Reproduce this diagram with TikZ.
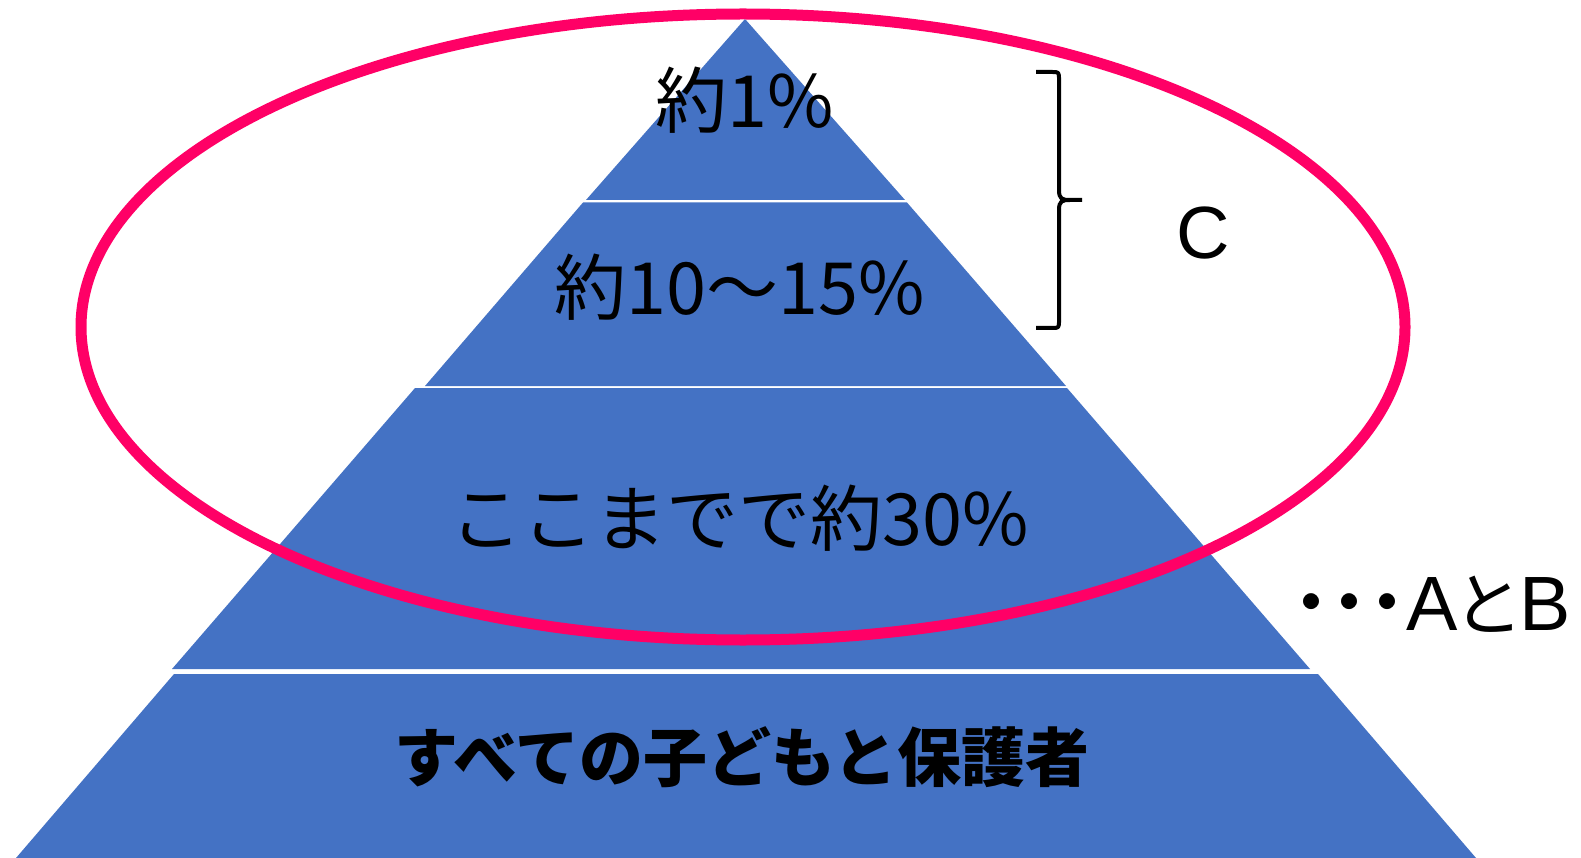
\documentclass[tikz,border=0pt]{standalone}
\usepackage{fontspec}
\setmainfont{Noto Sans CJK JP}
\newfontfamily\latinsans{Liberation Sans}
\definecolor{pyr}{HTML}{4472C4}
\definecolor{ring}{HTML}{FF0066}
\begin{document}
\begin{tikzpicture}[x=1pt,y=-1pt,
  layer/.style={fill=pyr, draw=none},
  lbl/.style={text=black, inner sep=0pt, font=\fontsize{72}{80}\selectfont},
  lblb/.style={text=black, inner sep=0pt, font=\fontsize{64}{70}\selectfont\bfseries},
  side/.style={text=black, inner sep=0pt}]
\useasboundingbox (0,0) rectangle (1581,858);
\fill[white] (0,0) rectangle (1581,858);
% pyramid layers
\path[layer] (745,19) -- (905,200) -- (586,200) -- cycle;
\path[layer] (583,202.5) -- (907,202.5) -- (1066,386) -- (425,386) -- cycle;
\path[layer] (415,388) -- (1067,388) -- (1310,669) -- (172,669) -- cycle;
\path[layer] (174,674) -- (1318,674) -- (1476,858) -- (16,858) -- cycle;
% labels
\node[lbl] (t1) at (745,100) {約1\%};
\node[lbl] (t2) at (740,287) {約10〜15\%};
\node[lbl] (t3) at (740,518) {ここまでで約30\%};
\node[lblb] (t4) at (742,757) {すべての子どもと保護者};
% ellipse
\draw[ring, line width=11] (743,327) ellipse [x radius=662pt, y radius=313pt];
% brace
\draw[black, line width=4, line join=round]
  (1036,72) -- (1052,72) .. controls (1059,72) .. (1059,80)
  -- (1059,190) .. controls (1059,199) and (1062,200) .. (1070,200) -- (1082,200)
  (1070,200) .. controls (1062,200) and (1059,201) .. (1059,210)
  -- (1059,320) .. controls (1059,328) .. (1052,328) -- (1036,328);
\node[side, font=\latinsans\fontsize{74}{80}\selectfont] (c) at (1203,233) {C};
\node[side, anchor=base west, font=\fontsize{76}{80}\selectfont] (ab) at (1292,630)
  {\bfseries ･･･\mdseries{\latinsans\fontsize{77}{80}\selectfont A}\kern-4pt{\fontsize{70}{80}\selectfont と}\kern-4pt{\latinsans\fontsize{77}{80}\selectfont B}};
\end{tikzpicture}
\end{document}
